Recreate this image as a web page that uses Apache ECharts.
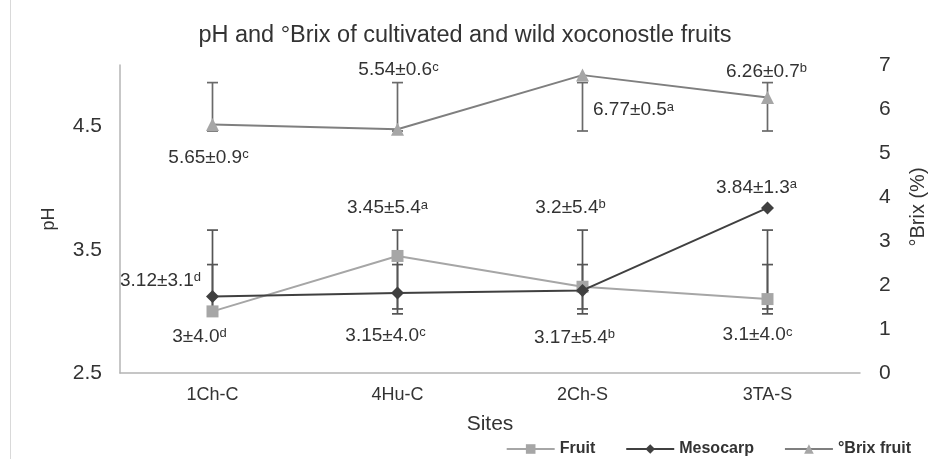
<!DOCTYPE html>
<html>
<head>
<meta charset="utf-8">
<script src="https://cdn.jsdelivr.net/npm/echarts@6/dist/echarts.min.js"></script>
<style>
html,body{margin:0;padding:0;background:#fff;}
#chart{width:930px;height:459px;}
</style>
</head>
<body>
<div id="chart"></div>
<script>
// ---- data ----
const categories = ['1Ch-C', '4Hu-C', '2Ch-S', '3TA-S'];
const fruitPH = [3, 3.45, 3.2, 3.1];
const fruitSD = ['4.0', '5.4', '5.4', '4.0'];
const fruitLetters = ['d', 'a', 'b', 'c'];
const mesocarpPH = [3.12, 3.15, 3.17, 3.84];
const mesocarpSD = ['3.1', '4.0', '5.4', '1.3'];
const mesocarpLetters = ['d', 'c', 'b', 'a'];
const brixFruit = [5.65, 5.54, 6.77, 6.26];
const brixSD = ['0.9', '0.6', '0.5', '0.7'];
const brixLetters = ['c', 'c', 'a', 'b'];
// error bar extents as drawn in the picture
const fruitErrLow = [2.98, 2.98, 2.98, 2.98];
const fruitErrHigh = [3.66, 3.66, 3.66, 3.66];
const mesoErrLow = [3.02, 3.02, 3.02, 3.02];
const mesoErrHigh = [3.38, 3.38, 3.38, 3.38];
const brixErrLow = [5.5, 5.5, 5.5, 5.5];
const brixErrHigh = [6.6, 6.6, 6.6, 6.6];
const phTickLabels = ['2.5', '3.5', '4.5'];

// ---- label placement (style, not data) ----
const fruitLabelOffset = [[-13, 25], [-10, -48], [-12, -79], [-10, 36]];
const mesoLabelOffset = [[-52, -16], [-12, 43], [-8, 47], [-11, -20]];
const brixLabelOffset = [[-4, 33], [1, -59], [51, 35], [-1, -26]];

const chart = echarts.init(document.getElementById('chart'), null, {renderer: 'canvas'});
const FONT = 'Liberation Sans, Arial, sans-serif';

function lineData(vals, offsets) {
  return vals.map((v, i) => ({value: v, label: {offset: offsets[i]}}));
}
function makeFormatter(vals, sds, letters) {
  return function (p) {
    const i = p.dataIndex;
    return String(vals[i]) + '\u00b1' + sds[i] + '{s|' + letters[i] + '}';
  };
}
function errData(low, high) {
  return categories.map((c, i) => [i, low[i], high[i]]);
}
function errRender(color) {
  return function (params, api) {
    const xi = api.value(0);
    const lo = api.coord([xi, api.value(1)]);
    const hi = api.coord([xi, api.value(2)]);
    const w = 5.5;
    const st = {stroke: color, lineWidth: 1.7};
    return {
      type: 'group',
      children: [
        {type: 'line', shape: {x1: lo[0], y1: lo[1], x2: hi[0], y2: hi[1]}, style: st},
        {type: 'line', shape: {x1: hi[0] - w, y1: hi[1], x2: hi[0] + w, y2: hi[1]}, style: st},
        {type: 'line', shape: {x1: lo[0] - w, y1: lo[1], x2: lo[0] + w, y2: lo[1]}, style: st}
      ]
    };
  };
}
const labelBase = {
  show: true,
  position: 'inside',
  fontSize: 19,
  fontFamily: FONT,
  color: '#333',
  rich: {s: {fontSize: 13, fontFamily: FONT, color: '#333', verticalAlign: 'top', lineHeight: 14}}
};

const option = {
  backgroundColor: '#fff',
  animation: false,
  textStyle: {fontFamily: FONT},
  title: {
    text: 'pH and \u00b0Brix of cultivated and wild xoconostle fruits',
    left: 'center',
    top: 19,
    textStyle: {fontSize: 23.5, fontWeight: 'normal', color: '#333', fontFamily: FONT}
  },
  legend: {
    right: 14,
    top: 436,
    itemWidth: 48,
    itemHeight: 12,
    itemGap: 30,
    textStyle: {fontSize: 16, fontWeight: 'bold', color: '#333', fontFamily: FONT},
    data: ['Fruit', 'Mesocarp', '\u00b0Brix fruit']
  },
  grid: {left: 120, right: 70, top: 65, bottom: 86, containLabel: false, outerBoundsMode: 'none'},
  xAxis: {
    type: 'category',
    data: categories,
    boundaryGap: true,
    name: 'Sites',
    nameLocation: 'middle',
    nameGap: 41,
    nameTextStyle: {fontSize: 21, color: '#333', fontFamily: FONT},
    axisLine: {lineStyle: {color: '#B4B4B4', width: 1.5}},
    axisTick: {show: false},
    axisLabel: {fontSize: 18, color: '#333', margin: 13, fontFamily: FONT}
  },
  yAxis: [
    {
      type: 'value',
      min: 2.5,
      max: 5,
      interval: 0.5,
      name: 'pH',
      nameLocation: 'middle',
      nameGap: 62,
      nameRotate: 90,
      nameTextStyle: {fontSize: 18, color: '#333', fontFamily: FONT},
      axisLine: {show: true, lineStyle: {color: '#B4B4B4', width: 1.5}},
      axisTick: {show: false},
      splitLine: {show: false},
      axisLabel: {
        fontSize: 21, color: '#333', margin: 18, fontFamily: FONT,
        formatter: function (v) {
          const s = v.toFixed(1);
          return phTickLabels.indexOf(s) >= 0 ? s : '';
        }
      }
    },
    {
      type: 'value',
      min: 0,
      max: 7,
      interval: 1,
      position: 'right',
      name: '\u00b0Brix (%)',
      nameLocation: 'middle',
      nameGap: 48,
      nameRotate: 90,
      nameTextStyle: {fontSize: 20, color: '#333', fontFamily: FONT, padding: [0, 0, 0, 24]},
      axisLine: {show: false},
      axisTick: {show: false},
      splitLine: {show: false},
      axisLabel: {fontSize: 21, color: '#333', margin: 19, fontFamily: FONT}
    }
  ],
  graphic: [
    {type: 'line', shape: {x1: 10.5, y1: 0, x2: 10.5, y2: 459}, style: {stroke: '#D9D9D9', lineWidth: 1}}
  ],
  series: [
    {
      type: 'custom', name: 'fruitErr', yAxisIndex: 0, z: 1, silent: true,
      renderItem: errRender('#555555'), data: errData(fruitErrLow, fruitErrHigh),
      encode: {x: 0, y: [1, 2]}
    },
    {
      type: 'custom', name: 'mesoErr', yAxisIndex: 0, z: 1, silent: true,
      renderItem: errRender('#555555'), data: errData(mesoErrLow, mesoErrHigh),
      encode: {x: 0, y: [1, 2]}
    },
    {
      type: 'custom', name: 'brixErr', yAxisIndex: 1, z: 1, silent: true,
      renderItem: errRender('#6A6A6A'), data: errData(brixErrLow, brixErrHigh),
      encode: {x: 0, y: [1, 2]}
    },
    {
      name: 'Fruit', type: 'line', yAxisIndex: 0, z: 3,
      data: lineData(fruitPH, fruitLabelOffset),
      symbol: 'rect', symbolSize: 12,
      itemStyle: {color: '#A6A6A6'},
      lineStyle: {color: '#A6A6A6', width: 2},
      label: Object.assign({}, labelBase, {formatter: makeFormatter(fruitPH, fruitSD, fruitLetters)})
    },
    {
      name: 'Mesocarp', type: 'line', yAxisIndex: 0, z: 4,
      data: lineData(mesocarpPH, mesoLabelOffset),
      symbol: 'diamond', symbolSize: 13,
      itemStyle: {color: '#404040'},
      lineStyle: {color: '#404040', width: 2},
      label: Object.assign({}, labelBase, {formatter: makeFormatter(mesocarpPH, mesocarpSD, mesocarpLetters)})
    },
    {
      name: '\u00b0Brix fruit', type: 'line', yAxisIndex: 1, z: 5,
      data: lineData(brixFruit, brixLabelOffset),
      symbol: 'triangle', symbolSize: 13,
      itemStyle: {color: '#A6A6A6'},
      lineStyle: {color: '#7F7F7F', width: 2},
      label: Object.assign({}, labelBase, {formatter: makeFormatter(brixFruit, brixSD, brixLetters)})
    }
  ]
};
chart.setOption(option);
</script>
</body>
</html>
